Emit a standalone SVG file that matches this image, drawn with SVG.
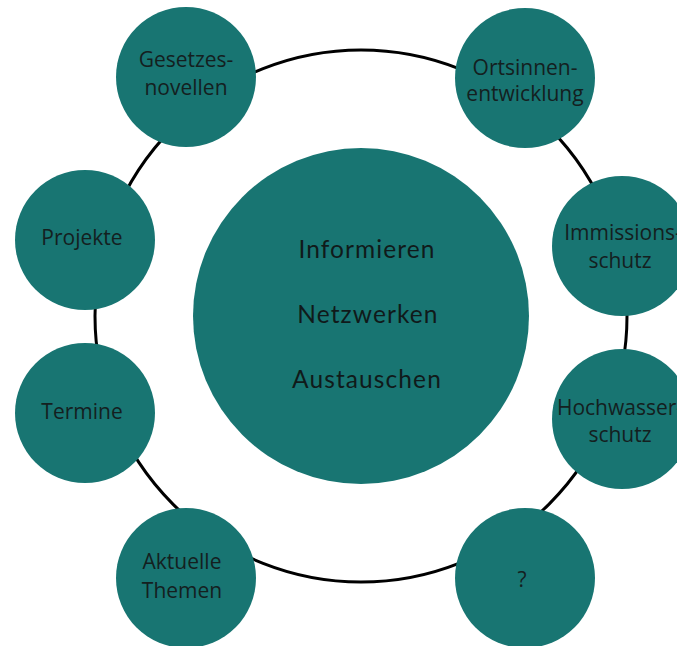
<svg xmlns="http://www.w3.org/2000/svg" width="677" height="646" viewBox="0 0 677 646">
<style>
.node{fill:#187572}
.lbl{font-family:"Open Sans","Liberation Sans",sans-serif;font-size:21px;fill:#14201f;text-anchor:middle}
.big{font-family:Lato,"Liberation Sans",sans-serif;font-size:24.5px;fill:#101a1a;text-anchor:middle;letter-spacing:1.1px}
.ring{fill:none;stroke:#000;stroke-width:3}
</style>
<rect width="677" height="646" fill="#fff"/>
<g id="connectors">
<circle class="ring" cx="361" cy="316" r="266"/>
</g>
<g id="center">
<circle class="node" cx="361" cy="316" r="168"/>
<text class="big" x="367" y="258">Informieren</text>
<text class="big" x="368" y="323">Netzwerken</text>
<text class="big" x="367" y="388">Austauschen</text>
</g>
<g id="gesetzesnovellen">
<circle class="node" cx="186" cy="77" r="70"/>
<text class="lbl" x="186" y="67">Gesetzes-</text>
<text class="lbl" x="186" y="95">novellen</text>
</g>
<g id="ortsinnenentwicklung">
<circle class="node" cx="525" cy="78" r="70"/>
<text class="lbl" x="525" y="75">Ortsinnen-</text>
<text class="lbl" x="525" y="101">entwicklung</text>
</g>
<g id="projekte">
<circle class="node" cx="85" cy="240" r="70"/>
<text class="lbl" x="82" y="245">Projekte</text>
</g>
<g id="immissionsschutz">
<circle class="node" cx="622" cy="246" r="70"/>
<text class="lbl" x="623" y="240">Immissions-</text>
<text class="lbl" x="620" y="268">schutz</text>
</g>
<g id="termine">
<circle class="node" cx="85" cy="413" r="70"/>
<text class="lbl" x="82" y="419">Termine</text>
</g>
<g id="hochwasserschutz">
<circle class="node" cx="622" cy="419" r="70"/>
<text class="lbl" x="620" y="415">Hochwasser-</text>
<text class="lbl" x="620" y="442">schutz</text>
</g>
<g id="aktuellethemen">
<circle class="node" cx="186" cy="578" r="70"/>
<text class="lbl" x="182" y="569">Aktuelle</text>
<text class="lbl" x="182" y="598">Themen</text>
</g>
<g id="fragezeichen">
<circle class="node" cx="525" cy="578" r="70"/>
<text class="lbl" x="522" y="587">?</text>
</g>
</svg>
